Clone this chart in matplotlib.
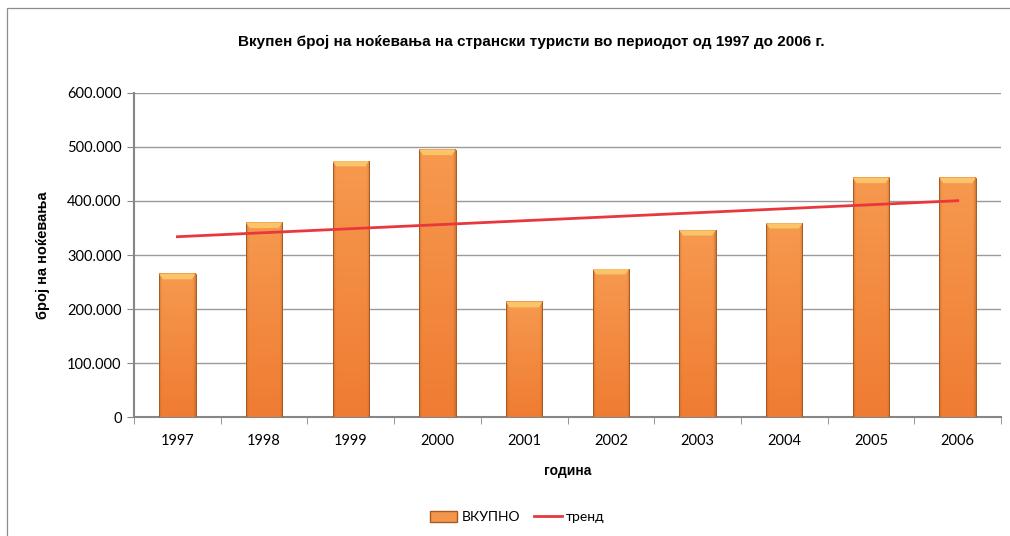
import matplotlib
matplotlib.use('Agg')

import matplotlib.pyplot as plt
import numpy as np
from matplotlib.patches import Rectangle, Patch, Polygon
from matplotlib.lines import Line2D
from matplotlib.colors import to_rgb
from matplotlib.ticker import FuncFormatter, MultipleLocator

# data
years = ['1997', '1998', '1999', '2000', '2001', '2002', '2003', '2004', '2005', '2006']
nights = [265000, 360000, 474000, 495000, 213000, 274000, 346000, 359000, 443000, 443000]

title = 'Вкупен број на ноќевања на странски туристи во периодот од 1997 до 2006 г.'
x_label = 'година'
y_label = 'број на ноќевања'
bar_name = 'ВКУПНО'
trend_name = 'тренд'

x = np.arange(len(years))
y = np.array(nights)

# linear trend, like Excel's trendline
k, b = np.polyfit(x, y, 1)
trend = k * x + b

fig = plt.figure(figsize=(10.1, 5.36), dpi=100)
ax = fig.add_axes([0.1327, 0.222, 0.8584, 0.6045])

# outer chart border
fig.add_artist(Rectangle((7 / 1010, -0.1), 1.2, 1 - 8 / 536 + 0.1, transform=fig.transFigure,
                         fill=False, edgecolor='#8c8c8c', linewidth=0.9))

# shaded bar image: lighter in the middle, darker at the sides and bottom
top_c = np.array(to_rgb('#f6994f'))
bot_c = np.array(to_rgb('#ef7c32'))
edge_c = np.array(to_rgb('#b8601f'))
u = np.linspace(0, 1, 60)
side = np.clip(1 - np.minimum(u, 1 - u) / 0.09, 0, 1) ** 1.5
v = np.linspace(0, 1, 80)[:, None, None]
base = top_c * (1 - v) + bot_c * v
shade = base * (1 - side[None, :, None] * 0.55) + edge_c * side[None, :, None] * 0.55

bar_w = 0.42
cap = 10000
for xi, yi in zip(x, y):
    ax.imshow(shade, extent=(xi - bar_w / 2, xi + bar_w / 2, 0, yi), aspect='auto',
              interpolation='bilinear', zorder=3, origin='upper')
    ax.add_patch(Rectangle((xi - bar_w / 2, 0), bar_w, yi, fill=False,
                           edgecolor='#a55a22', linewidth=0.7, zorder=4))
    ax.add_patch(Polygon([(xi - bar_w / 2, yi), (xi + bar_w / 2, yi),
                          (xi + bar_w * 0.4, yi - cap), (xi - bar_w * 0.4, yi - cap)],
                         closed=True, facecolor='#fbc468', edgecolor='none', zorder=4))

ax.plot(x, trend, color='#e8383e', linewidth=2, zorder=5)

ax.set_xlim(-0.5, len(years) - 0.5)
ax.set_ylim(0, 600000)
ax.yaxis.set_major_locator(MultipleLocator(100000))
ax.yaxis.set_major_formatter(FuncFormatter(lambda v, p: f'{int(v):,}'.replace(',', '.')))
ax.set_xticks(x)
ax.set_xticklabels(years)
ax.set_xticks(np.arange(-0.5, len(years)), minor=True)
ax.tick_params(axis='x', which='major', length=0, pad=12, labelsize=10.5)
ax.tick_params(axis='x', which='minor', length=5, color='#868686', direction='out')
ax.tick_params(axis='y', length=5, color='#868686', labelsize=10.5, pad=4)
for lab in ax.get_xticklabels() + ax.get_yticklabels():
    lab.set_family(['Lato', 'DejaVu Sans'])

ax.grid(axis='y', color='#9a9a9a', linewidth=1, zorder=0)
ax.set_axisbelow(True)
for s in ['top', 'right']:
    ax.spines[s].set_visible(False)
for s in ['left', 'bottom']:
    ax.spines[s].set_color('#868686')
    ax.spines[s].set_linewidth(1.5)

ax.set_xlabel(x_label, fontsize=10, fontweight='bold', family='Liberation Sans', labelpad=12)
ax.set_ylabel(y_label, fontsize=10.5, fontweight='bold', family='Liberation Sans', labelpad=12)

fig.text(0.526, 0.922, title, ha='center', va='center', fontsize=11,
         fontweight='bold', family='Liberation Sans')

handles = [Patch(facecolor='#f4964c', edgecolor='#a85a22', label=bar_name),
           Line2D([0], [0], color='#e8383e', linewidth=2, label=trend_name)]
leg = fig.legend(handles=handles, loc='center', bbox_to_anchor=(0.512, 0.035), ncol=2,
                 frameon=False, handlelength=2.0, handleheight=0.8,
                 columnspacing=1.0, handletextpad=0.3, prop={'family': 'Lato', 'size': 10})

fig.savefig('out.png', dpi=100)
